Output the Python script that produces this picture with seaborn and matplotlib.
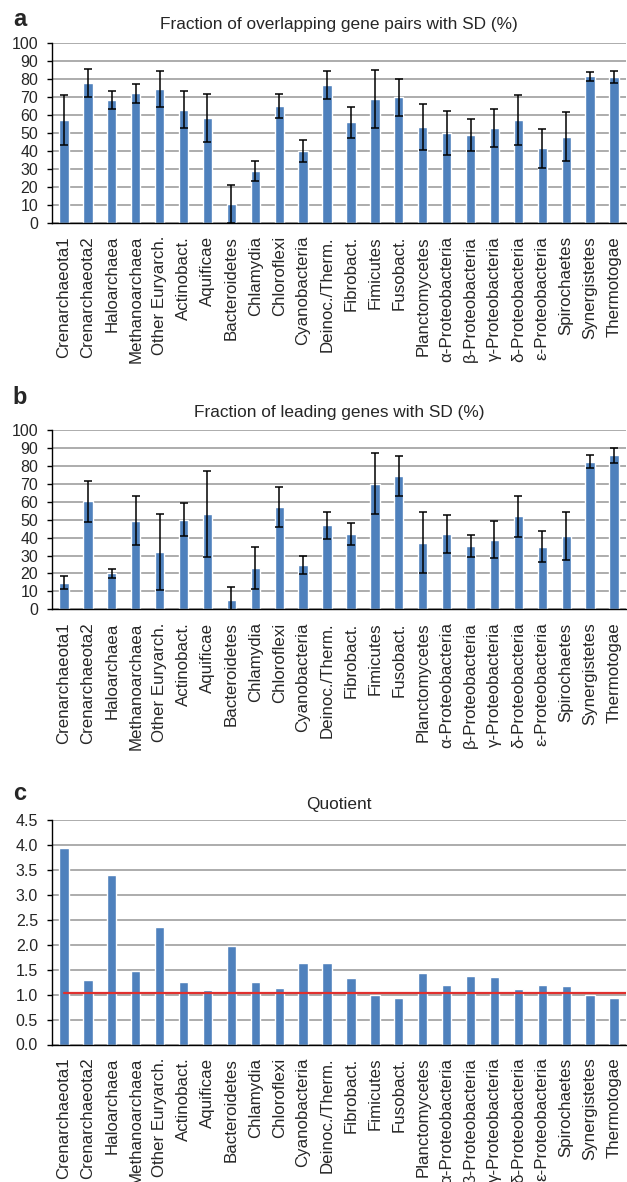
import numpy as np
import pandas as pd
import matplotlib
matplotlib.use("Agg")
import matplotlib.pyplot as plt
import seaborn as sns

# --- data ---
groups = ['Crenarchaeota1', 'Crenarchaeota2', 'Haloarchaea', 'Methanoarchaea',
          'Other Euryarch.', 'Actinobact.', 'Aquificae', 'Bacteroidetes',
          'Chlamydia', 'Chloroflexi', 'Cyanobacteria', 'Deinoc./Therm.',
          'Fibrobact.', 'Fimicutes', 'Fusobact.', 'Planctomycetes',
          'α-Proteobacteria', 'β-Proteobacteria', 'γ-Proteobacteria',
          'δ-Proteobacteria', 'ε-Proteobacteria', 'Spirochaetes',
          'Synergistetes', 'Thermotogae']

overlap = [57.2, 77.9, 68.2, 72.1, 74.5, 63.0, 58.4, 10.4, 28.8, 65.1, 40.1, 76.8,
           55.9, 69.1, 69.9, 53.3, 50.0, 48.9, 52.8, 57.2, 41.4, 48.0, 81.6, 81.0]
overlap_sd = [13.8, 7.7, 5.1, 5.1, 9.9, 10.2, 13.3, 10.8, 5.7, 6.6, 6.0, 7.6,
              8.6, 16.2, 10.3, 12.6, 12.1, 8.8, 10.6, 13.9, 10.9, 13.6, 2.5, 3.4]

leading = [14.9, 60.2, 20.1, 49.3, 32.0, 50.0, 53.2, 5.2, 23.0, 57.1, 24.5, 46.8,
           42.0, 70.1, 74.2, 37.2, 42.0, 35.5, 38.7, 51.9, 34.9, 40.9, 82.2, 85.9]
leading_sd = [3.6, 11.3, 2.4, 13.7, 21.1, 9.3, 24.1, 7.4, 11.7, 11.0, 5.0, 7.7,
              6.2, 17.2, 11.2, 16.9, 10.6, 6.1, 10.3, 11.3, 8.6, 13.6, 3.6, 4.3]

quotient = [3.94, 1.29, 3.39, 1.47, 2.35, 1.26, 1.09, 1.97, 1.26, 1.14, 1.64, 1.64,
            1.33, 0.99, 0.94, 1.44, 1.19, 1.38, 1.36, 1.11, 1.19, 1.18, 0.99, 0.94]
ref_level = 1.03

titles = ['Fraction of overlapping gene pairs with SD (%)',
          'Fraction of leading genes with SD (%)',
          'Quotient']

df = pd.DataFrame({'group': groups, 'overlap': overlap, 'overlap_sd': overlap_sd,
                   'leading': leading, 'leading_sd': leading_sd, 'quotient': quotient})

# --- style ---
sns.set_style('white')
plt.rcParams['font.family'] = ['Liberation Sans', 'DejaVu Sans']
BAR = '#4F81BD'
GRID = '#A6A6A6'

W, H = 627, 1182
fig = plt.figure(figsize=(W / 100, H / 100), dpi=100)


def px_axes(top, bottom, left=52, right=626):
    return fig.add_axes([left / W, 1 - bottom / H, (right - left) / W, (bottom - top) / H])


def style_axes(ax, ymax, step, fmt):
    n = len(groups)
    ax.set_xlim(-0.5, n - 0.5)
    ax.set_ylim(0, ymax)
    ticks = np.arange(0, ymax + step / 2, step)
    ax.set_yticks(ticks)
    ax.set_yticklabels([fmt.format(v) for v in ticks])
    ax.yaxis.grid(True, color=GRID, lw=1.3)
    ax.xaxis.grid(False)
    ax.set_axisbelow(True)
    for s in ['top', 'right']:
        ax.spines[s].set_visible(False)
    for s in ['left', 'bottom']:
        ax.spines[s].set_color('black')
        ax.spines[s].set_linewidth(1.0)
    # ticks between categories, like the original spreadsheet chart
    ax.set_xticks(np.arange(-0.5, n, 1), minor=True)
    ax.tick_params(axis='x', which='major', length=0, pad=9.5, labelsize=12.2,
                   labelrotation=90)
    ax.tick_params(axis='x', which='minor', length=3.5, width=1, color='black',
                   direction='out')
    ax.tick_params(axis='y', length=3.5, width=1, color='black', direction='out',
                   pad=6.5, labelsize=11.5, left=True)
    ax.set_xlabel('')
    ax.set_ylabel('')


# --- panel a ---
ax_a = px_axes(43.3, 222.7)
sns.barplot(data=df, x='group', y='overlap', color=BAR, saturation=1, width=0.39, ax=ax_a)
ax_a.errorbar(np.arange(len(groups)), df['overlap'], yerr=df['overlap_sd'], fmt='none',
              ecolor='black', elinewidth=1.1, capsize=3, capthick=1.1)
style_axes(ax_a, 100, 10, '{:.0f}')

# --- panel b ---
ax_b = px_axes(430, 609.3)
sns.barplot(data=df, x='group', y='leading', color=BAR, saturation=1, width=0.39, ax=ax_b)
ax_b.errorbar(np.arange(len(groups)), df['leading'], yerr=df['leading_sd'], fmt='none',
              ecolor='black', elinewidth=1.1, capsize=3, capthick=1.1)
style_axes(ax_b, 100, 10, '{:.0f}')

# --- panel c ---
ax_c = px_axes(820, 1044.5)
sns.barplot(data=df, x='group', y='quotient', color=BAR, saturation=1, width=0.39, ax=ax_c)
ax_c.plot([0, len(groups) - 0.5], [ref_level, ref_level], color='#E0302E', lw=1.6)
style_axes(ax_c, 4.5, 0.5, '{:.1f}')

# titles and panel letters
for ypx, t in zip([25, 412, 805], titles):
    fig.text(339 / W, 1 - ypx / H, t, ha='center', va='center', fontsize=12.4)
for ypx, lab in zip([19, 398, 794], ['a', 'b', 'c']):
    fig.text(20 / W, 1 - ypx / H, lab, ha='center', va='center', fontsize=17,
             fontweight='bold')

fig.savefig('out.png', dpi=100)
